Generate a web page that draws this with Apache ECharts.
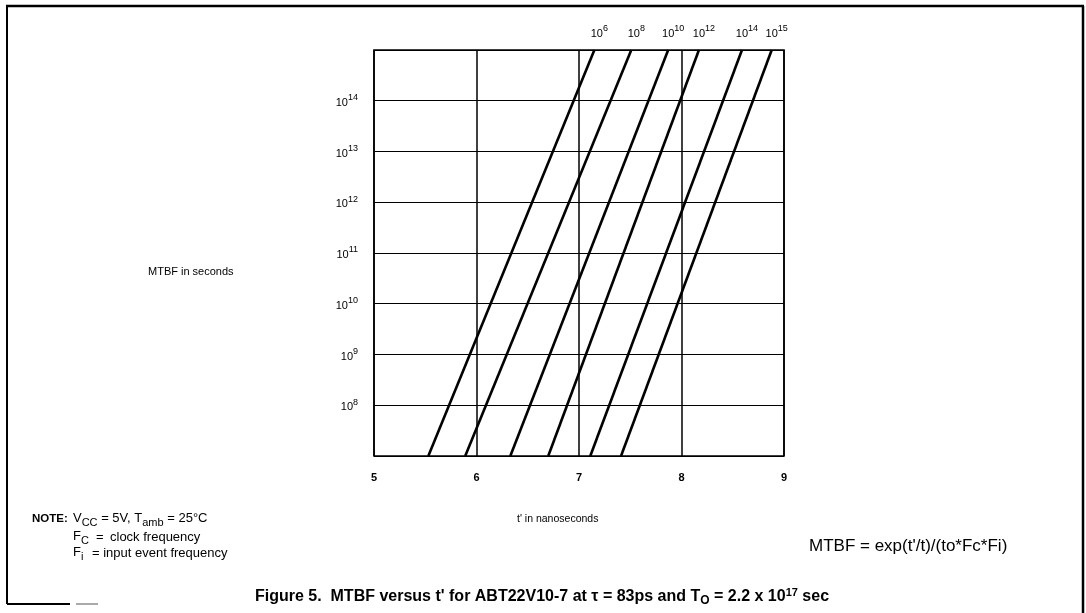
<!DOCTYPE html>
<html>
<head>
<meta charset="utf-8">
<script src="https://cdn.jsdelivr.net/npm/echarts@6/dist/echarts.min.js"></script>
<style>
  html, body { margin: 0; padding: 0; background: #fff; }
  #chart { width: 1086px; height: 613px; }
</style>
</head>
<body>
<div id="chart"></div>
<script>
// 输入事件频率 (Fc*Fi 的指数), 每条线的起止点
const freqExp = ['6', '8', '10', '12', '14', '15'];
const tStart = [5.53, 5.89, 6.33, 6.70, 7.11, 7.41];   // t' at MTBF = 1e7
const tEnd = [7.15, 7.51, 7.87, 8.17, 8.59, 8.88];     // t' at MTBF = 1e15
const mtbfStart = 1e7;
const mtbfEnd = 1e15;
const xTicks = [5, 6, 7, 8, 9];

const FONT = '"Liberation Sans", Arial, Helvetica, sans-serif';

// 上标: 10^n
const supRich = {
    b: { fontSize: 11, lineHeight: 15, verticalAlign: 'bottom', fontFamily: FONT, color: '#000' },
    s: { fontSize: 9, lineHeight: 9, verticalAlign: 'top', fontFamily: FONT, color: '#000' }
};

// 注释里的下标
const noteRich = {
    n: { fontSize: 13, lineHeight: 13, verticalAlign: 'top', fontFamily: FONT, fill: '#000' },
    sub: { fontSize: 11, lineHeight: 16, verticalAlign: 'bottom', fontFamily: FONT, fill: '#000' },
    nb: { fontSize: 11.5, fontWeight: 'bold', lineHeight: 13, verticalAlign: 'top', fontFamily: FONT, fill: '#000' }
};

const series = freqExp.map((e, i) => ({
    type: 'line',
    clip: false,
    symbol: 'circle',
    symbolSize: 0,
    showSymbol: true,
    lineStyle: { color: '#000', width: 2.6 },
    itemStyle: { color: '#000' },
    emphasis: { disabled: true },
    data: [
        { value: [tStart[i], mtbfStart], label: { show: false } },
        {
            value: [tEnd[i], mtbfEnd],
            label: {
                show: true,
                position: 'top',
                distance: 11,
                offset: [5, 0],
                formatter: '{b|10}{s|' + e + '}',
                rich: supRich
            }
        }
    ]
}));

function noteText(x, y, text) {
    return {
        type: 'text', x: x, y: y,
        style: { text: text, textVerticalAlign: 'middle', rich: noteRich, fontFamily: FONT, fill: '#000' }
    };
}

const chart = echarts.init(document.getElementById('chart'));

chart.setOption({
    backgroundColor: '#fff',
    animation: false,
    textStyle: { fontFamily: FONT },
    grid: {
        left: 374,
        right: 302,
        top: 50,
        bottom: 157,
        show: true,
        borderColor: '#000',
        borderWidth: 1.6
    },
    xAxis: {
        type: 'value',
        min: xTicks[0],
        max: xTicks[xTicks.length - 1],
        interval: 1,
        axisLine: { show: false },
        axisTick: { show: false },
        splitLine: { show: true, lineStyle: { color: '#000', width: 1.5 } },
        axisLabel: {
            margin: 16,
            fontSize: 11,
            fontWeight: 'bold',
            color: '#000',
            fontFamily: FONT
        }
    },
    yAxis: {
        type: 'log',
        logBase: 10,
        min: mtbfStart,
        max: mtbfEnd,
        interval: 1,
        splitNumber: 8,
        axisLine: { show: false },
        axisTick: { show: false },
        splitLine: { show: true, lineStyle: { color: '#000', width: 1.2 } },
        axisLabel: {
            margin: 16,
            formatter: function (v) {
                const e = Math.round(Math.log10(v));
                if (e <= 7 || e >= 15) return '';
                return '{b|10}{s|' + e + '}';
            },
            rich: supRich
        }
    },
    series: series,
    graphic: [
        // 外框
        { type: 'line', shape: { x1: 6, y1: 6, x2: 1084, y2: 6 }, style: { stroke: '#000', lineWidth: 2.5 } },
        { type: 'line', shape: { x1: 7, y1: 6, x2: 7, y2: 604 }, style: { stroke: '#000', lineWidth: 2 } },
        { type: 'line', shape: { x1: 1083, y1: 6, x2: 1083, y2: 613 }, style: { stroke: '#000', lineWidth: 2.5 } },
        { type: 'line', shape: { x1: 7, y1: 604, x2: 70, y2: 604 }, style: { stroke: '#000', lineWidth: 2 } },
        { type: 'line', shape: { x1: 76, y1: 604, x2: 98, y2: 604 }, style: { stroke: '#555', lineWidth: 1 } },
        // 坐标轴名称
        {
            type: 'text', x: 148, y: 272,
            style: { text: 'MTBF in seconds', fontSize: 11, fontFamily: FONT, fill: '#000', textVerticalAlign: 'middle' }
        },
        {
            type: 'text', x: 517, y: 519,
            style: { text: "t' in nanoseconds", fontSize: 10.5, fontFamily: FONT, fill: '#000', textVerticalAlign: 'middle' }
        },
        // 注释
        noteText(32, 519, '{nb|NOTE:}'),
        noteText(73, 520, '{n|V}{sub|CC}{n| = 5V, T}{sub|amb}{n| = 25°C}'),
        noteText(73, 538, '{n|F}{sub|C}'),
        noteText(96, 537, '{n|=}'),
        noteText(110, 537, '{n|clock frequency}'),
        noteText(73, 554, '{n|F}{sub|i}'),
        noteText(92, 553, '{n|= input event frequency}'),
        // 公式
        {
            type: 'text', x: 809, y: 546,
            style: { text: "MTBF = exp(t'/t)/(to*Fc*Fi)", fontSize: 17, fontFamily: FONT, fill: '#000', textVerticalAlign: 'middle' }
        },
        // 图题
        {
            type: 'text', x: 542, y: 597,
            style: {
                text: "{n|Figure 5.  MTBF versus t' for ABT22V10-7 at τ = 83ps and T}{sub|O}{n| = 2.2 x 10}{sup|17}{n| sec}",
                fontFamily: FONT, fill: '#000',
                textAlign: 'center', textVerticalAlign: 'middle',
                rich: {
                    n: { fontSize: 16, fontWeight: 'bold', lineHeight: 20, verticalAlign: 'middle', fontFamily: FONT, fill: '#000' },
                    sub: { fontSize: 12, fontWeight: 'bold', lineHeight: 12, verticalAlign: 'bottom', fontFamily: FONT, fill: '#000' },
                    sup: { fontSize: 11, fontWeight: 'bold', lineHeight: 11, verticalAlign: 'top', fontFamily: FONT, fill: '#000' }
                }
            }
        }
    ]
});
</script>
</body>
</html>
